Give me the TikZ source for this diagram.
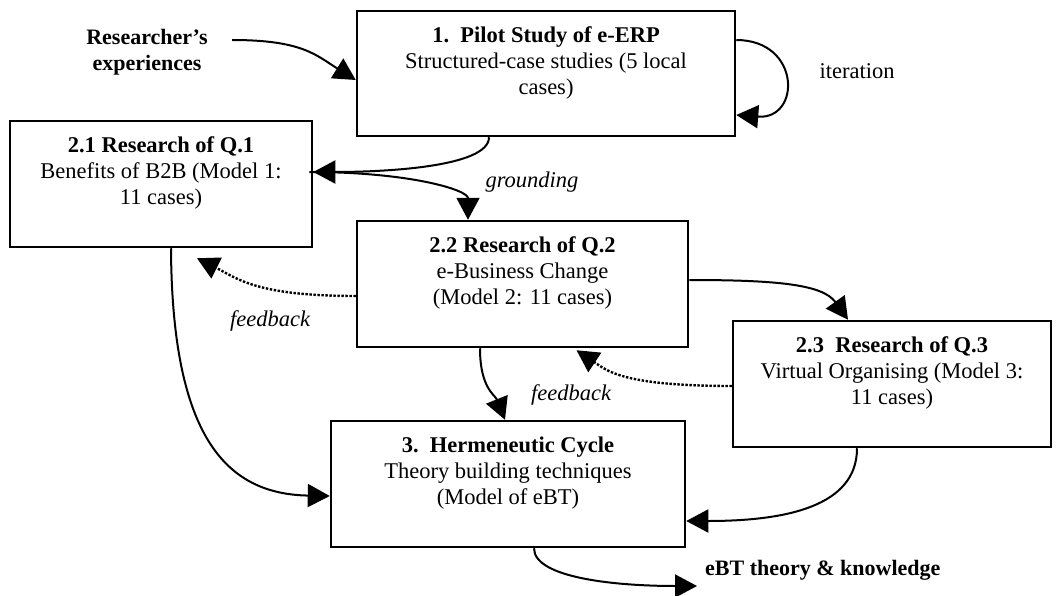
\documentclass[tikz,border=0pt]{standalone}
\usepackage{fontspec}
\setmainfont{Liberation Serif}
\usetikzlibrary{arrows.meta}
\begin{document}
\begin{tikzpicture}[x=1pt,y=-1pt,
  font=\fontsize{22.5}{26}\selectfont,
  box/.style={draw, line width=2.5pt, inner sep=0pt},
  boxtext/.style={anchor=north, align=center, inner sep=0pt, yshift=-17pt},
  lbl/.style={inner sep=0pt, align=center},
  conn/.style={line width=2pt, -{Triangle[length=22pt,width=23pt]}},
  fb/.style={conn, line width=2.4pt, dash pattern=on 2.4pt off 1.6pt}]
\useasboundingbox (0,0) rectangle (1056,596);

% boxes
\node[box, minimum width=378pt, minimum height=125pt] (b1)  at (546,73.5) {};
\node[box, minimum width=302pt, minimum height=126pt] (b21) at (161,184) {};
\node[box, minimum width=331pt, minimum height=126pt] (b22) at (522.5,284) {};
\node[box, minimum width=318pt, minimum height=126pt] (b23) at (892,384) {};
\node[box, minimum width=354pt, minimum height=126pt] (b3)  at (508,484) {};

% box contents
\node[boxtext] (t1)  at (b1.north)  {\textbf{1.\ \ Pilot Study of e-ERP}\\Structured-case studies (5 local\\cases)};
\node[boxtext] (t21) at (b21.north) {\textbf{2.1 Research of Q.1}\\Benefits of B2B (Model 1:\\11 cases)};
\node[boxtext] (t22) at (b22.north) {\textbf{2.2 Research of Q.2}\\e-Business Change\\(Model 2: 11 cases)};
\node[boxtext] (t23) at (b23.north) {\textbf{2.3\ \ Research of Q.3}\\Virtual Organising (Model 3:\\11 cases)};
\node[boxtext] (t3)  at (b3.north)  {\textbf{3.\ \ Hermeneutic Cycle}\\Theory building techniques\\(Model of eBT)};

% free labels
\node[lbl, font=\fontsize{22}{26}\selectfont\bfseries] (exp) at (147,52) {Researcher's\\experiences};
\node[lbl] (iter) at (857,71) {iteration};
\node[lbl] (grd) at (532,182) {\itshape grounding};
\node[lbl] (fb1) at (270,321) {\itshape feedback};
\node[lbl] (fb2) at (571,395) {\itshape feedback};
\node[lbl, anchor=west, font=\fontsize{22}{26}\selectfont\bfseries] (ebt) at (705,570) {eBT theory \& knowledge};

\coordinate (expout) at (232,40);
\coordinate (ebtin) at (697,586);

% connectors
\draw[conn] (expout) .. controls +(70,0) and +(-40,-25) .. ([yshift=-6.5pt]b1.west);
\draw[conn] ([yshift=33.5pt]b1.east) .. controls +(65,0) and +(65,5) .. ([yshift=-41.5pt]b1.east);
\draw[conn] ([xshift=-57pt]b1.south) .. controls +(0,30) and +(70,0) .. ([yshift=12pt]b21.east);
\draw[conn] ([xshift=-4pt,yshift=12pt]b21.east) .. controls +(100,0) and +(0,-30) .. ([xshift=-54.5pt]b22.north);
\draw[conn] ([yshift=4pt]b22.east) .. controls +(90,0) and +(-25,-35) .. ([xshift=-44pt]b23.north);
\draw[fb] ([yshift=-12pt]b22.west) .. controls +(-100,0) and +(40,20) .. ([xshift=36pt,yshift=-10pt]b21.south);
\draw[conn] ([xshift=10pt]b21.south) .. controls +(1,193) and +(-101,-2) .. ([yshift=-12pt]b3.west);
\draw[conn] ([xshift=-42.5pt]b22.south) .. controls +(0,40) and +(-10,-25) .. ([xshift=-3pt]b3.north);
\draw[fb] ([yshift=-2pt]b23.west) .. controls +(-110,0) and +(30,20) .. ([xshift=54pt,yshift=-2pt]b22.south);
\draw[conn] ([xshift=-35pt]b23.south) .. controls +(0,58) and +(100,0) .. ([yshift=-37pt]b3.east);
\draw[conn] ([xshift=26pt]b3.south) .. controls +(0,30) and +(-80,0) .. (ebtin);
\end{tikzpicture}
\end{document}
